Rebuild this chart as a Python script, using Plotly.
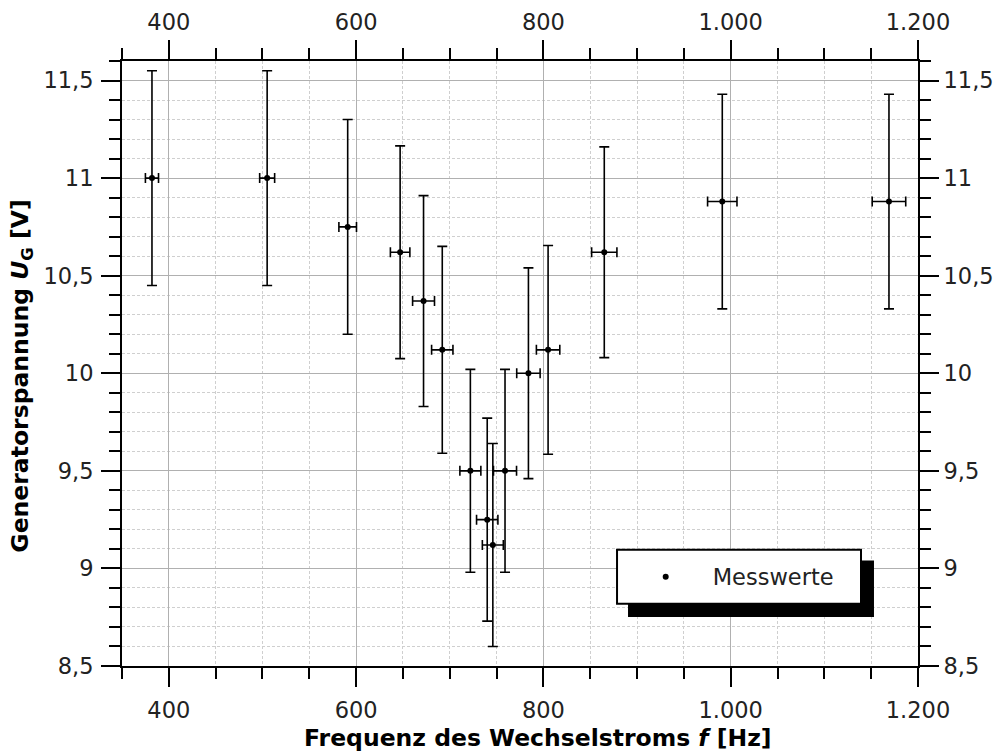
import plotly.graph_objects as go

freq_hz = [382, 505, 591, 647, 672, 692, 722, 740, 746, 759, 784, 805, 865, 991, 1169]
u_gen = [11.0, 11.0, 10.75, 10.62, 10.37, 10.12, 9.5, 9.25, 9.12, 9.5, 10.0, 10.12, 10.62, 10.88, 10.88]
freq_err = [7, 8, 9.4, 10.4, 11.7, 11.4, 11.2, 11.4, 11.2, 12.3, 12.5, 12.5, 13.5, 15.7, 17.9]
u_err = [0.55, 0.55, 0.55, 0.545, 0.54, 0.53, 0.52, 0.52, 0.52, 0.52, 0.54, 0.535, 0.54, 0.55, 0.55]

x_range = [350, 1200]
y_range = [8.5, 11.6]

FONT = "DejaVu Sans"
TXT = "#222222"
TICK_SIZE = 22.5
TITLE_SIZE = 23.5

fig = go.Figure()
fig.add_trace(go.Scatter(
    x=freq_hz, y=u_gen, mode="markers", name="Messwerte",
    marker=dict(color="black", size=6),
    error_x=dict(type="data", array=freq_err, color="black", thickness=1.6, width=5),
    error_y=dict(type="data", array=u_err, color="black", thickness=1.6, width=5),
))
# invisible copy so that the mirrored top/right axes are drawn
fig.add_trace(go.Scatter(
    x=freq_hz, y=u_gen, mode="markers", xaxis="x2", yaxis="y2",
    marker=dict(color="black", size=6, opacity=0), showlegend=False, hoverinfo="skip",
))

common_x = dict(
    range=x_range, dtick=200, tick0=0, ticks="outside", ticklen=19, tickwidth=2,
    tickcolor="black", showline=True, linecolor="black", linewidth=2,
    tickfont=dict(family=FONT, size=TICK_SIZE, color=TXT), separatethousands=True,
    zeroline=False, automargin=False,
)
common_y = dict(
    range=y_range, dtick=0.5, tick0=0, ticks="outside", ticklen=19, tickwidth=2,
    tickcolor="black", showline=True, linecolor="black", linewidth=2,
    tickfont=dict(family=FONT, size=TICK_SIZE, color=TXT), zeroline=False, automargin=False,
)

fig.update_layout(
    width=993, height=745,
    margin=dict(l=114, r=83, t=53, b=87),
    paper_bgcolor="white", plot_bgcolor="white",
    separators=",.",
    font=dict(family=FONT, size=22, color=TXT),
    xaxis=dict(
        **common_x, side="bottom", ticklabelstandoff=4,
        showgrid=True, gridcolor="#b0b0b0", gridwidth=1,
        minor=dict(dtick=50, ticks="outside", ticklen=11, tickwidth=2, tickcolor="black",
                   showgrid=True, gridcolor="#cfcfcf", gridwidth=1, griddash="3px,2px"),
    ),
    yaxis=dict(
        **common_y, side="left", ticklabelstandoff=3,
        showgrid=True, gridcolor="#b0b0b0", gridwidth=1,
        minor=dict(dtick=0.1, ticks="outside", ticklen=11, tickwidth=2, tickcolor="black",
                   showgrid=True, gridcolor="#cfcfcf", gridwidth=1, griddash="3px,2px"),
    ),
    xaxis2=dict(
        **common_x, side="top", overlaying="x", anchor="y2", showgrid=False, ticklabelstandoff=1,
        minor=dict(dtick=50, ticks="outside", ticklen=11, tickwidth=2, tickcolor="black", showgrid=False),
    ),
    yaxis2=dict(
        **common_y, side="right", overlaying="y", anchor="x2", showgrid=False, ticklabelstandoff=0,
        minor=dict(dtick=0.1, ticks="outside", ticklen=11, tickwidth=2, tickcolor="black", showgrid=False),
    ),
    showlegend=True,
    legend=dict(
        x=0.624, y=0.147, xanchor="left", yanchor="middle",
        bgcolor="rgba(0,0,0,0)", borderwidth=0, itemwidth=84,
        font=dict(family=FONT, size=TICK_SIZE, color=TXT),
    ),
    shapes=[
        dict(type="rect", xref="paper", yref="paper", x0=0.6357, x1=0.9447, y0=0.0809, y1=0.1745,
             fillcolor="black", line=dict(width=0), layer="above"),
        dict(type="rect", xref="paper", yref="paper", x0=0.6219, x1=0.9284, y0=0.1029, y1=0.1922,
             fillcolor="white", line=dict(color="black", width=2), layer="above"),
    ],
    annotations=[
        dict(text="<b>Frequenz des Wechselstroms <i>f</i> [Hz]</b>", xref="paper", yref="paper",
             x=0.5226, y=-0.1187, xanchor="center", yanchor="middle", showarrow=False,
             font=dict(family=FONT, size=TITLE_SIZE, color="black")),
        dict(text="<b>Generatorspannung <i>U</i><sub>G</sub> [V]</b>", xref="paper", yref="paper",
             x=-0.1256, y=0.4783, xanchor="center", yanchor="middle", showarrow=False, textangle=-90,
             font=dict(family=FONT, size=TITLE_SIZE, color="black")),
    ],
)

fig.write_html("out.html")
